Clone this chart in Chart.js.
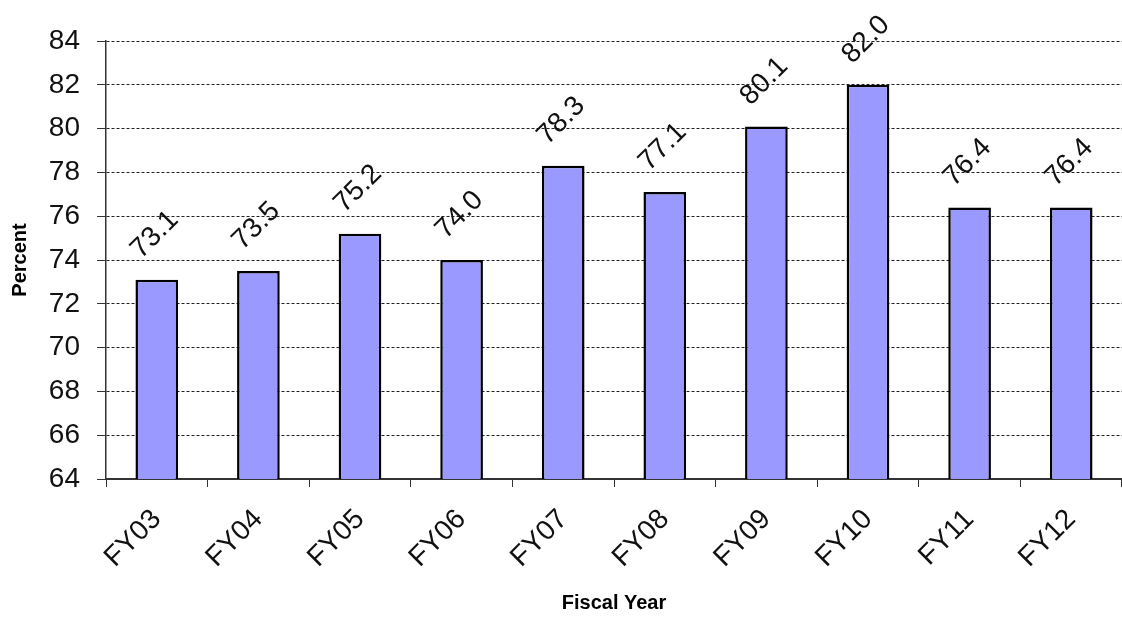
<!DOCTYPE html>
<html lang="en">
<head>
    <meta charset="UTF-8">
    <title>Percent by Fiscal Year</title>
    <script src="https://cdn.jsdelivr.net/npm/chart.js"></script>
    <style>
        body {
            margin: 0;
            padding: 0;
            background: #ffffff;
        }
        #wrap {
            width: 1122px;
            height: 620px;
        }
    </style>
</head>
<body>
    <div id="wrap">
        <canvas id="fyChart" width="1122" height="620"></canvas>
    </div>

    <script>
        // Data
        const years = ['FY03', 'FY04', 'FY05', 'FY06', 'FY07', 'FY08', 'FY09', 'FY10', 'FY11', 'FY12'];
        const percents = [73.1, 73.5, 75.2, 74.0, 78.3, 77.1, 80.1, 82.0, 76.4, 76.4];
        const yMin = 64;
        const yMax = 84;
        const yStep = 2;

        const FONT = "'Liberation Sans', Arial, sans-serif";

        // value labels, rotated, above each bar
        const valueLabels = {
            id: 'valueLabels',
            afterDatasetsDraw(chart) {
                const ctx = chart.ctx;
                const meta = chart.getDatasetMeta(0);
                ctx.save();
                ctx.font = '28px ' + FONT;
                ctx.fillStyle = '#111';
                ctx.textAlign = 'center';
                ctx.textBaseline = 'middle';
                meta.data.forEach((bar, i) => {
                    ctx.save();
                    ctx.translate(bar.x - 2, bar.y - 45);
                    ctx.rotate(-Math.PI / 4);
                    ctx.fillText(percents[i].toFixed(1), 0, 0);
                    ctx.restore();
                });
                ctx.restore();
            }
        };

        // axis titles
        const axisTitles = {
            id: 'axisTitles',
            afterDraw(chart) {
                const ctx = chart.ctx;
                ctx.save();
                ctx.font = 'bold 20px ' + FONT;
                ctx.fillStyle = '#000';
                ctx.textAlign = 'center';
                ctx.textBaseline = 'middle';
                ctx.fillText('Fiscal Year', 614, 603);
                ctx.translate(20, 260);
                ctx.rotate(-Math.PI / 2);
                ctx.fillText('Percent', 0, 0);
                ctx.restore();
            }
        };

        const ctx = document.getElementById('fyChart').getContext('2d');
        const fyChart = new Chart(ctx, {
            type: 'bar',
            data: {
                labels: years,
                datasets: [{
                    data: percents,
                    backgroundColor: '#9999ff',
                    borderColor: '#000000',
                    borderWidth: 2.5,
                    categoryPercentage: 1.0,
                    barPercentage: 0.42
                }]
            },
            options: {
                responsive: false,
                animation: false,
                layout: {
                    padding: { top: 41, right: 0, bottom: 0, left: 0 }
                },
                plugins: {
                    legend: { display: false },
                    tooltip: { enabled: false }
                },
                scales: {
                    x: {
                        afterFit(scale) { scale.height = 141; },
                        border: { display: true, color: '#333', width: 2 },
                        grid: {
                            offset: true,
                            drawOnChartArea: false,
                            drawTicks: true,
                            tickLength: 8,
                            color: '#333'
                        },
                        ticks: {
                            minRotation: 45,
                            maxRotation: 45,
                            padding: 16,
                            color: '#111',
                            font: { family: FONT, size: 28 }
                        }
                    },
                    y: {
                        min: yMin,
                        max: yMax,
                        afterFit(scale) { scale.width = 106; },
                        border: { display: true, color: '#333', width: 1.5, dash: [3, 2] },
                        grid: {
                            color: '#222',
                            tickBorderDash: [],
                            tickColor: '#333',
                            tickLength: 9,
                            lineWidth: 1
                        },
                        ticks: {
                            stepSize: yStep,
                            padding: 17,
                            color: '#111',
                            font: { family: FONT, size: 28 }
                        }
                    }
                }
            },
            plugins: [valueLabels, axisTitles]
        });
    </script>
</body>
</html>
